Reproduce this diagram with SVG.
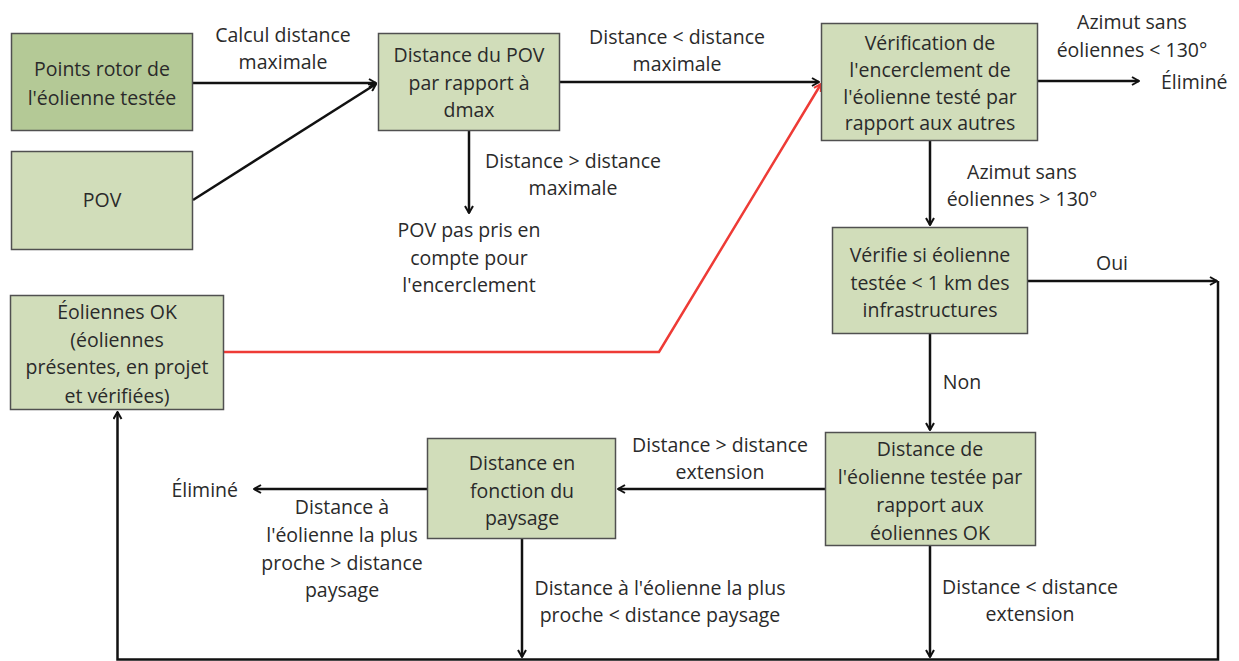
<svg xmlns="http://www.w3.org/2000/svg" width="1239" height="661" viewBox="0 0 1239 661">
<style>
.n{fill:#d1ddba;stroke:#505050;stroke-width:1.5}
.d{fill:#b4c996}
text{font-family:"Open Sans","Noto Sans","DejaVu Sans",sans-serif;font-size:19.5px;fill:#2a2a2a;text-anchor:middle}
.c{fill:none;stroke:#111;stroke-width:2.5}
.r{fill:none;stroke:#ee3b36;stroke-width:2.5}
</style>
<defs>
<marker id="a" viewBox="0 0 10 10" refX="9" refY="5" markerWidth="10" markerHeight="10" markerUnits="userSpaceOnUse" orient="auto">
<path d="M2,1 L9,5 L2,9" fill="none" stroke="#111" stroke-width="2"/>
</marker>
<marker id="ar" viewBox="0 0 10 10" refX="9" refY="5" markerWidth="10" markerHeight="10" markerUnits="userSpaceOnUse" orient="auto">
<path d="M2,1 L9,5 L2,9" fill="none" stroke="#ee3b36" stroke-width="2"/>
</marker>
</defs>
<g id="connectors">
<path class="c" d="M193,83 H376" marker-end="url(#a)"/>
<path class="c" d="M193,200 L376,84" marker-end="url(#a)"/>
<path class="c" d="M560,82 H819" marker-end="url(#a)"/>
<path class="c" d="M469,131 V213" marker-end="url(#a)"/>
<path class="r" d="M224,352 H659 L821,84" marker-end="url(#ar)"/>
<path class="c" d="M1038,81 H1139" marker-end="url(#a)"/>
<path class="c" d="M930,141 V225" marker-end="url(#a)"/>
<path class="c" d="M1028,281 H1217" marker-end="url(#a)"/>
<path class="c" d="M930,334 V430" marker-end="url(#a)"/>
<path class="c" d="M825,489 H618" marker-end="url(#a)"/>
<path class="c" d="M427,489 H254" marker-end="url(#a)"/>
<path class="c" d="M522,539 V657" marker-end="url(#a)"/>
<path class="c" d="M930,546 V657" marker-end="url(#a)"/>
<path class="c" d="M1218,281 V659.5 H117.5 V412" marker-end="url(#a)"/>
<text x="283" y="42">Calcul distance</text>
<text x="283" y="69">maximale</text>
<text x="677" y="44">Distance &lt; distance</text>
<text x="677" y="71">maximale</text>
<text x="573" y="168">Distance &gt; distance</text>
<text x="573" y="195">maximale</text>
<text x="469" y="237">POV pas pris en</text>
<text x="469" y="265">compte pour</text>
<text x="469" y="292">l'encerclement</text>
<text x="1132" y="29">Azimut sans</text>
<text x="1132" y="57">éoliennes &lt; 130°</text>
<text x="1161" y="89" style="text-anchor:start">Éliminé</text>
<text x="1022" y="179">Azimut sans</text>
<text x="1022" y="206">éoliennes &gt; 130°</text>
<text x="1112" y="270">Oui</text>
<text x="962" y="389">Non</text>
<text x="720" y="452">Distance &gt; distance</text>
<text x="720" y="479">extension</text>
<text x="238" y="497" style="text-anchor:end">Éliminé</text>
<text x="342" y="514">Distance à</text>
<text x="342" y="542">l'éolienne la plus</text>
<text x="342" y="570">proche &gt; distance</text>
<text x="342" y="597">paysage</text>
<text x="660" y="595">Distance à l'éolienne la plus</text>
<text x="660" y="622">proche &lt; distance paysage</text>
<text x="1030" y="594">Distance &lt; distance</text>
<text x="1030" y="621">extension</text>
</g>
<g id="n1"><rect class="n d" x="11.5" y="33.5" width="181" height="97"/>
<text x="102" y="76">Points rotor de</text><text x="102" y="105">l'éolienne testée</text></g>
<g id="n2"><rect class="n" x="11.5" y="151.5" width="181" height="98"/>
<text x="102" y="207">POV</text></g>
<g id="n3"><rect class="n" x="378.5" y="33.5" width="181" height="97"/>
<text x="469" y="62">Distance du POV</text><text x="469" y="90">par rapport à</text><text x="469" y="117">dmax</text></g>
<g id="n4"><rect class="n" x="821.5" y="23.5" width="216" height="117"/>
<text x="930" y="50">Vérification de</text><text x="930" y="77">l'encerclement de</text><text x="930" y="104">l'éolienne testé par</text><text x="930" y="130">rapport aux autres</text></g>
<g id="n5"><rect class="n" x="832.5" y="227.5" width="195" height="106"/>
<text x="930" y="262">Vérifie si éolienne</text><text x="930" y="290">testée &lt; 1 km des</text><text x="930" y="317">infrastructures</text></g>
<g id="n6"><rect class="n" x="825.5" y="432.5" width="210" height="113"/>
<text x="930" y="456">Distance de</text><text x="930" y="484">l'éolienne testée par</text><text x="930" y="512">rapport aux</text><text x="930" y="540">éoliennes OK</text></g>
<g id="n7"><rect class="n" x="427.5" y="438.5" width="188" height="100"/>
<text x="522" y="470">Distance en</text><text x="522" y="498">fonction du</text><text x="522" y="525">paysage</text></g>
<g id="n8"><rect class="n" x="10.5" y="295.5" width="213" height="114"/>
<text x="117" y="319">Éoliennes OK</text><text x="117" y="347">(éoliennes</text><text x="117" y="374">présentes, en projet</text><text x="117" y="403">et vérifiées)</text></g>
</svg>
